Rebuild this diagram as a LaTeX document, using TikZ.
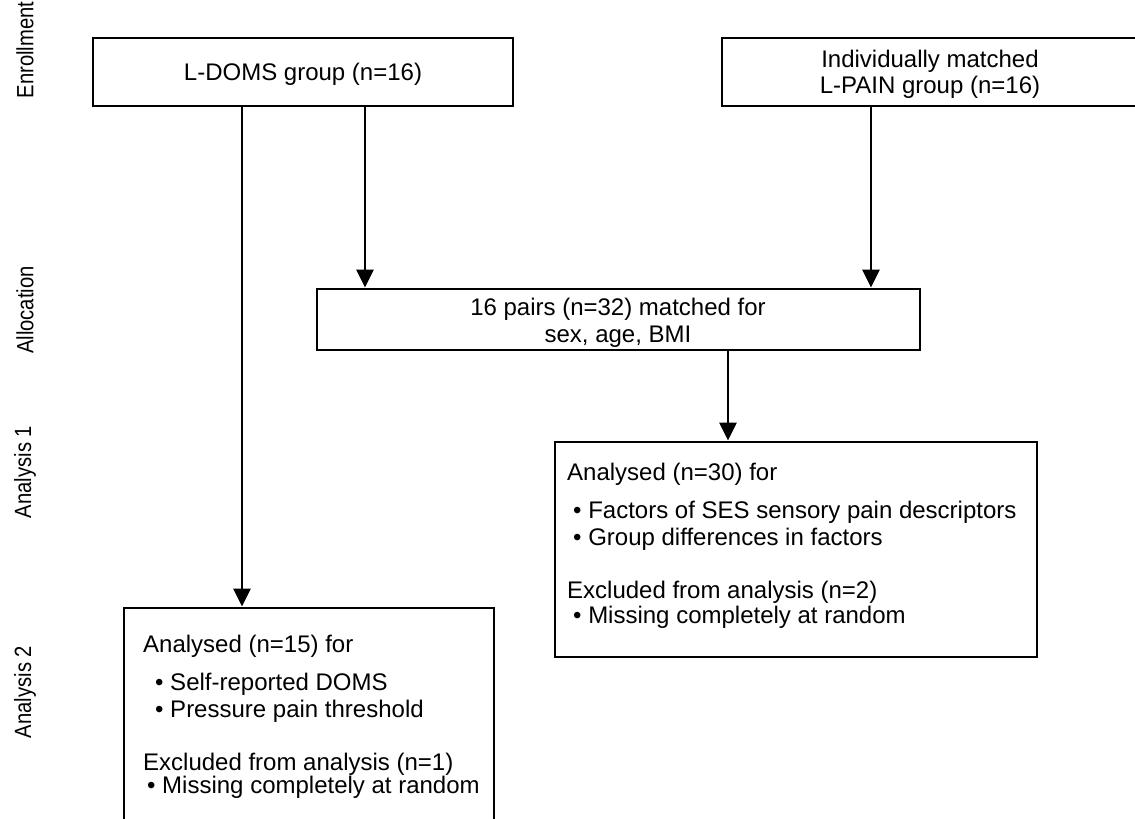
\documentclass[tikz,border=0pt]{standalone}
\usepackage{fontspec}
\setmainfont{Liberation Sans}
\newfontfamily\narrowlbl[FakeStretch=0.86]{Liberation Sans}
\usetikzlibrary{arrows.meta}
\begin{document}
\begin{tikzpicture}[x=1pt,y=-1pt,
  box/.style={draw, line width=2.8pt, inner sep=0pt},
  txt/.style={font=\fontsize{24}{27}\selectfont, inner sep=0pt},
  lbl/.style={font=\narrowlbl\fontsize{23.5}{27}\selectfont, inner sep=0pt, rotate=90},
  arr/.style={line width=2.8pt, -{Triangle[width=17pt,length=18pt]}}]
\useasboundingbox (0,0) rectangle (1135,819);
\clip (0,0) rectangle (1135,819);
\fill[white] (0,0) rectangle (1135,819);
% boxes
\node[box, minimum width=420pt, minimum height=68pt] (doms) at (303,72) {};
\node[box, minimum width=416pt, minimum height=68pt] (pain) at (930,72) {};
\node[box, minimum width=603pt, minimum height=61pt] (alloc) at (618.5,319.5) {};
\node[box, minimum width=482pt, minimum height=215pt] (ana1) at (796,549.5) {};
\node[box, minimum width=370pt, minimum height=242pt] (ana2) at (309,729) {};
% texts
\node[txt, anchor=base] (tdoms) at (303,80) {L-DOMS group (n=16)};
\node[txt, anchor=base] (tpain1) at (930,67) {Individually matched};
\node[txt, anchor=base] (tpain2) at (930,93) {L-PAIN group (n=16)};
\node[txt, anchor=base] (talloc1) at (618,315) {16 pairs (n=32) matched for};
\node[txt, anchor=base] (talloc2) at (618,342) {sex, age, BMI};
\node[txt, anchor=base west] (ta1a) at (567,480) {Analysed (n=30) for};
\node[txt, anchor=base west] (ta1b) at (573,518) {• Factors of SES sensory pain descriptors};
\node[txt, anchor=base west] (ta1c) at (573,545) {• Group differences in factors};
\node[txt, anchor=base west] (ta1d) at (567,598) {Excluded from analysis (n=2)};
\node[txt, anchor=base west] (ta1e) at (573,623) {• Missing completely at random};
\node[txt, anchor=base west] (ta2a) at (143,652) {Analysed (n=15) for};
\node[txt, anchor=base west] (ta2b) at (155,690) {• Self-reported DOMS};
\node[txt, anchor=base west] (ta2c) at (155,717) {• Pressure pain threshold};
\node[txt, anchor=base west] (ta2d) at (143,770) {Excluded from analysis (n=1)};
\node[txt, anchor=base west] (ta2e) at (147,793) {• Missing completely at random};
% side labels
\node[lbl] (lenr) at (25,50) {Enrollment};
\node[lbl] (lall) at (25,310) {Allocation};
\node[lbl] (lan1) at (25,472) {Analysis 1};
\node[lbl] (lan2) at (25,692) {Analysis 2};
% arrows
\draw[arr] ([xshift=-61pt]doms.south) -- ([xshift=-61pt]doms.south |- ana2.north);
\draw[arr] ([xshift=62pt]doms.south) -- ([xshift=62pt]doms.south |- alloc.north);
\draw[arr] ([xshift=-59pt]pain.south) -- ([xshift=-59pt]pain.south |- alloc.north);
\draw[arr] ([xshift=109.5pt]alloc.south) -- ([xshift=109.5pt]alloc.south |- ana1.north);
\end{tikzpicture}
\end{document}
